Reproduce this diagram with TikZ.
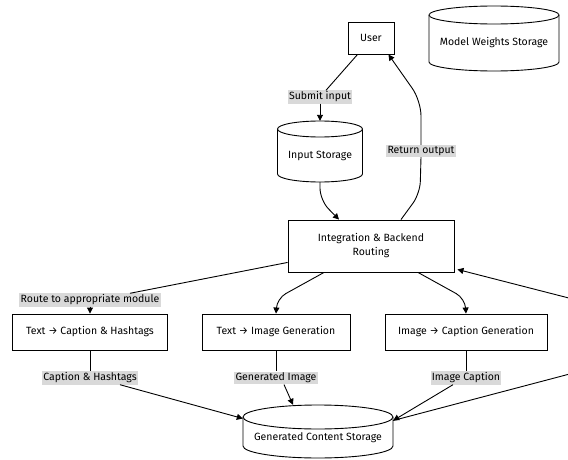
\documentclass[tikz,border=0pt]{standalone}
\usepackage{fontspec}
\setmainfont{Fira Sans}
\usetikzlibrary{arrows.meta}
\tikzset{
  box/.style={draw, line width=0.9pt, fill=white, align=center, font=\fontsize{10.5}{14}\selectfont},
  drumline/.style={draw, line width=0.9pt, fill=white},
  drumbody/.style={inner sep=0pt},
  drumtext/.style={font=\fontsize{10.5}{14}\selectfont},
  lbl/.style={fill=gray!30, inner sep=1.3pt, font=\fontsize{10.5}{12}\selectfont},
  flow/.style={line width=0.9pt, -{Triangle[length=6pt,width=6pt]}},
  link/.style={line width=0.9pt}
}
% storage drum: name, x, y, half width, half height, cap radius, text
\newcommand\drum[7]{%
  \draw[drumline] (#2-#4,#3-#5+#6) -- (#2-#4,#3+#5-#6)
    arc[start angle=180, end angle=0, x radius=#4, y radius=#6]
    -- (#2+#4,#3-#5+#6)
    arc[start angle=0, end angle=-180, x radius=#4, y radius=#6] -- cycle;
  \draw[drumline] (#2-#4,#3-#5+#6) arc[start angle=180, end angle=0, x radius=#4, y radius=#6];
  \node[drumbody, minimum width=2*#4, minimum height=2*#5] (#1) at (#2,#3) {};
  \node[drumtext] (#1-t) at (#2,#3+#6/2) {#7};
}
\begin{document}
\begin{tikzpicture}[x=1pt,y=-1pt]
  \useasboundingbox (0,0) rectangle (568,460);
  \clip (0,0) rectangle (568,460);
  % top row
  \node[box, minimum width=46, minimum height=32] (user) at (371,38) {User};
  \drum{weights}{494}{38.5}{65}{32.5}{9}{Model Weights Storage}
  \drum{input}{320}{151.5}{42.5}{30.5}{8}{Input Storage}
  \node[box, minimum width=166, minimum height=52] (route) at (371,246) {Integration \& Backend\\Routing};
  % generator modules
  \node[box, minimum width=155, minimum height=36] (txtcap) at (90,332) {Text → Caption \& Hashtags};
  \node[box, minimum width=148, minimum height=36] (txtimg) at (276,332) {Text → Image Generation};
  \node[box, minimum width=162, minimum height=36] (imgcap) at (466,332) {Image → Caption Generation};
  \drum{gen}{318}{431.5}{75}{26.5}{12}{Generated Content Storage}
  % edge labels
  \node[lbl] (lsubmit) at (320,97) {Submit input};
  \node[lbl] (lreturn) at (421,151) {Return output};
  \node[lbl] (lroute) at (90,300) {Route to appropriate module};
  \node[lbl] (lcap) at (90,378) {Caption \& Hashtags};
  \node[lbl] (lgimg) at (276,378) {Generated Image};
  \node[lbl] (licap) at (466,378) {Image Caption};
  % user <-> backend
  \draw[link] ([xshift=10]user.south west) -- ([xshift=6]lsubmit.north);
  \draw[flow] (lsubmit.south) -- (input.north);
  \draw[flow, rounded corners=12] (input.south) -- ++(0,18) -- ([xshift=-32]route.north);
  \draw[link, rounded corners=12] ([xshift=30]route.north) -- ++(19,-26) -- (lreturn.south);
  \draw[flow, rounded corners=15] (lreturn.north) -- ++(0,-44) -- ([xshift=-6]user.south east);
  % backend -> modules
  \draw[link] ([yshift=10]route.south west) -- ([xshift=40]lroute.north);
  \draw[flow] (lroute.south) -- (txtcap.north);
  \draw[flow, rounded corners=10] ([xshift=-47]route.south) -- ++(-47,26) -- (txtimg.north);
  \draw[flow, rounded corners=10] ([xshift=47]route.south) -- ++(47,26) -- (imgcap.north);
  % modules -> storage
  \draw[link] (txtcap) -- (lcap);
  \draw[flow] ([xshift=30]lcap.south) -- ([yshift=13]gen.west);
  \draw[link] (txtimg) -- (lgimg);
  \draw[flow] ([xshift=8]lgimg.south) -- ([xshift=-25]gen.north);
  \draw[link] (imgcap) -- (licap);
  \draw[flow] ([xshift=-13]licap.south) -- ([yshift=11]gen.east);
  % storage back to backend (leaves the frame)
  \coordinate (loopa) at (600,366);
  \coordinate (loopb) at (600,306);
  \draw[flow] ([yshift=11]gen.east) -- (loopa) -- (loopb) -- ([xshift=3,yshift=3]route.south east);
\end{tikzpicture}
\end{document}
